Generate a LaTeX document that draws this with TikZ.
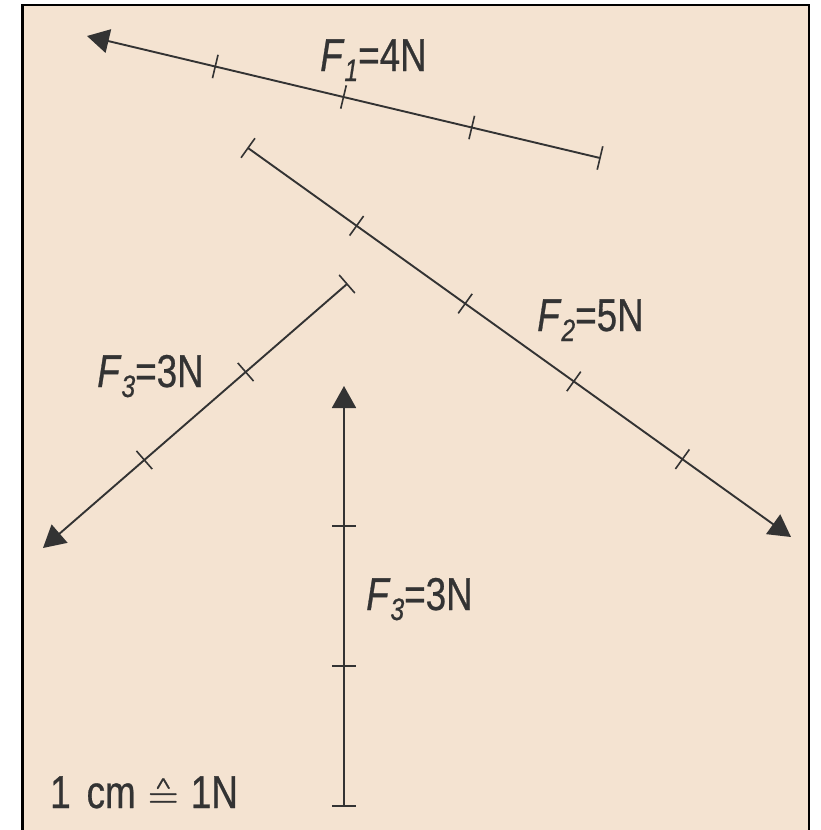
\documentclass[tikz,border=0pt]{standalone}
\usepackage{fontspec}
\setmainfont{Liberation Sans}[FakeStretch=0.8,FakeBold=0.6]
\newfontfamily\lmmath{Latin Modern Math}[FakeBold=0.6]
\usetikzlibrary{calc,arrows.meta}
\definecolor{paper}{HTML}{F4E3D1}
\definecolor{ink}{HTML}{333333}
\tikzset{
  vec/.style={draw=ink, line width=1.9pt, -{Triangle[length=22pt,width=24pt]}},
  tickmark/.style={draw=ink, line width=1.6pt},
  lbl/.style={anchor=base west, inner sep=0pt, text=ink, font=\fontsize{46}{46}\selectfont},
}
\newcommand\subidx[1]{\raisebox{-10pt}{\fontsize{31}{31}\selectfont\itshape #1}}
\begin{document}
\begin{tikzpicture}[x=1pt,y=-1pt]
\useasboundingbox (0,0) rectangle (821,830);
\fill[white] (0,0) rectangle (821,830);
\draw[fill=paper, line width=2.5pt] (22.5,5) rectangle (809,845);
% vectors: tail -> tip
\coordinate (a1) at (600,158); \coordinate (b1) at (87,36);
\coordinate (a2) at (248,148); \coordinate (b2) at (791,537);
\coordinate (a3) at (347,284); \coordinate (b3) at (43,548);
\coordinate (a4) at (344,806); \coordinate (b4) at (344,386);
\foreach \A/\B/\n in {a1/b1/4, a2/b2/5, a3/b3/3, a4/b4/3} {
  \draw[vec] (\A) -- (\B);
  \draw[tickmark] ($(\A)!12pt!90:(\B)$) -- ($(\A)!12pt!-90:(\B)$);
  \pgfmathtruncatemacro\m{\n-1}
  \foreach \k in {1,...,\m} {
    \pgfmathsetmacro\f{\k/\n}
    \coordinate (t) at ($(\A)!\f!(\B)$);
    \draw[tickmark] ($(t)!12pt!90:(\B)$) -- ($(t)!12pt!-90:(\B)$);
  }
}
\node[lbl] (l1) at (320,71) {\textit{F}\subidx{1}=4N};
\node[lbl] (l2) at (537,331) {\textit{F}\subidx{2}=5N};
\node[lbl] (l3) at (97,387) {\textit{F}\subidx{3}=3N};
\node[lbl] (l4) at (366,610) {\textit{F}\subidx{3}=3N};
\node[lbl] (sc) at (50,808) {1\hspace{16pt}cm\hspace{12pt}{\lmmath\fontsize{40}{40}\selectfont ≙}\hspace{12pt}1N};
\end{tikzpicture}
\end{document}
